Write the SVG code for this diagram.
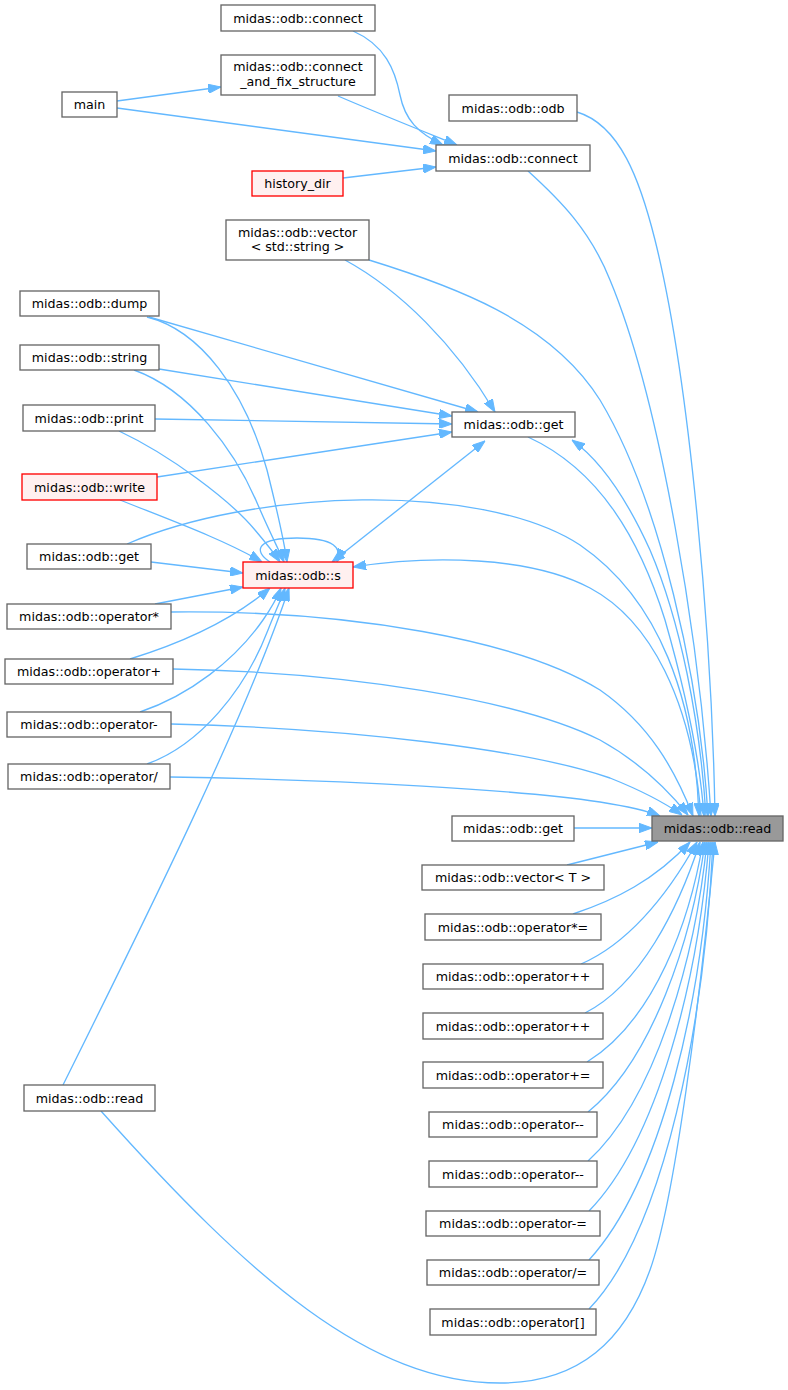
<svg xmlns="http://www.w3.org/2000/svg" width="788" height="1390" viewBox="0 0 788 1390">
<defs>
<style>
.node rect{fill:#ffffff;stroke:#666666;stroke-width:1.33}
.node.red rect{fill:#fff0f0;stroke:#ff0000}
.node.root rect{fill:#999999;stroke:#666666}
text{font-family:"DejaVu Sans","Liberation Sans",sans-serif;font-size:12.67px;text-anchor:middle;fill:#000000}
#edges path{fill:none;stroke:#63b8ff;stroke-width:1.33;marker-end:url(#ah)}
#edges path.both{marker-start:url(#ah)}
#edges path.rev{marker-end:url(#ah)}
</style>
<marker id="ah" viewBox="0 0 13 9.4" refX="13" refY="4.7" markerWidth="13" markerHeight="9.4" markerUnits="userSpaceOnUse" orient="auto-start-reverse">
<path d="M0,0 L13,4.7 L0,9.4 z" fill="#63b8ff" stroke="#63b8ff" stroke-width="1"/>
</marker>
</defs>
<rect x="0" y="0" width="788" height="1390" fill="#ffffff"/>
<g id="edges">
<path d="M117,101 L221,87"/>
<path d="M117,108 L436,151"/>
<path d="M338,96 C375,112 420,130 457,145"/>
<path d="M353,31 C385,45 395,70 400,95 C405,120 418,133 443,145"/>
<path d="M343,178 L436,167"/>
<path d="M577,112 C620,125 640,180 655,240 C690,380 712,640 715,816"/>
<path d="M528,171 C560,200 590,230 610,280 C660,400 700,640 711,816"/>
<path d="M369,260 C450,285 550,320 600,400 C660,500 700,680 708,816"/>
<path d="M345,260 C400,290 455,345 495,412"/>
<path d="M149,317 L478,412"/>
<path d="M159,369 L452,416"/>
<path d="M155,419 L452,424"/>
<path d="M157,477 L452,432"/>
<path d="M147,317 C200,330 245,390 267,470 C277,510 284,540 287,562"/>
<path d="M134,370 C190,390 235,450 258,505 C270,533 279,550 284,562"/>
<path d="M119,431 C170,455 230,500 255,530 C266,543 274,553 280,562"/>
<path d="M120,500 C170,520 225,540 262,562"/>
<path d="M151,562 L243,573"/>
<path d="M155,604 L243,587"/>
<path d="M130,659 C185,642 235,618 270,588"/>
<path d="M140,712 C190,695 235,660 263,620 C272,607 277,598 281,588"/>
<path d="M147,764 C200,745 245,690 268,630 C275,612 281,600 285,588"/>
<path d="M63,1085 C140,930 245,720 289,588"/>
<path d="M270,562 C252,550 258,538 297,538 C334,538 343,548 337,562"/>
<path class="both" d="M485,441 L332,562"/>
<path d="M127,544 C250,490 480,480 580,545 C660,600 695,700 699,816"/>
<path d="M701,816 C692,700 650,620 590,588 C530,556 430,555 353,567"/>
<path d="M528,437 C600,470 640,540 665,620 C685,690 700,760 704,816"/>
<path d="M706,816 C700,720 680,620 650,550 C625,495 600,460 572,440"/>
<path d="M171,612 C350,610 520,640 600,690 C650,725 675,770 693,816"/>
<path d="M173,669 C350,672 520,700 600,740 C645,765 672,795 688,815"/>
<path d="M171,724 C350,728 530,750 610,778 C640,790 665,803 682,815"/>
<path d="M170,777 C350,780 520,790 600,802 C625,806 645,810 660,816"/>
<path d="M574,828 L652,828"/>
<path d="M567,865 L658,842"/>
<path d="M573,914 C615,900 655,880 690,842"/>
<path d="M581,964 C625,945 665,900 697,842"/>
<path d="M585,1013 C640,985 678,910 700,842"/>
<path d="M587,1062 C655,1020 690,920 703,842"/>
<path d="M588,1112 C652,1060 692,940 705,842"/>
<path d="M588,1161 C655,1100 695,960 707,842"/>
<path d="M589,1211 C658,1140 698,980 709,842"/>
<path d="M589,1260 C662,1180 702,1000 711,842"/>
<path d="M589,1309 C665,1230 705,1020 713,842"/>
<path d="M101,1111 C251,1279 370,1383 500,1383 C580,1383 625,1340 650,1270 C675,1200 700,1000 715,842"/>
</g>
<g id="n_connect_top" class="node"><rect x="221" y="5" width="154" height="26"/><text x="298" y="22.5">midas::odb::connect</text></g>
<g id="n_connect_fix" class="node"><rect x="221" y="55" width="154" height="40"/><text x="298" y="71">midas::odb::connect</text><text x="298" y="86">_and_fix_structure</text></g>
<g id="n_main" class="node"><rect x="62" y="92" width="55" height="25"/><text x="89.5" y="109">main</text></g>
<g id="n_history_dir" class="node red"><rect x="252" y="171" width="91" height="25"/><text x="297.5" y="188">history_dir</text></g>
<g id="n_vector_str" class="node"><rect x="226" y="220" width="143" height="40"/><text x="297.5" y="236.5">midas::odb::vector</text><text x="297.5" y="251">&lt; std::string &gt;</text></g>
<g id="n_odb" class="node"><rect x="449" y="95" width="128" height="26"/><text x="513" y="112.5">midas::odb::odb</text></g>
<g id="n_connect" class="node"><rect x="436" y="145" width="154" height="26"/><text x="513" y="162.5">midas::odb::connect</text></g>
<g id="n_dump" class="node"><rect x="20" y="291" width="139" height="25"/><text x="89.5" y="308">midas::odb::dump</text></g>
<g id="n_string" class="node"><rect x="20" y="345" width="139" height="25"/><text x="89.5" y="362">midas::odb::string</text></g>
<g id="n_print" class="node"><rect x="23" y="405" width="132" height="26"/><text x="89" y="422.5">midas::odb::print</text></g>
<g id="n_write" class="node red"><rect x="22" y="474" width="135" height="26"/><text x="89.5" y="491.5">midas::odb::write</text></g>
<g id="n_get_left" class="node"><rect x="27" y="544" width="124" height="25"/><text x="89" y="561">midas::odb::get</text></g>
<g id="n_s" class="node red"><rect x="243" y="562" width="110" height="26"/><text x="298" y="579.5">midas::odb::s</text></g>
<g id="n_op_mul" class="node"><rect x="7" y="604" width="164" height="25"/><text x="89" y="621">midas::odb::operator*</text></g>
<g id="n_op_add" class="node"><rect x="5" y="659" width="168" height="25"/><text x="89" y="676">midas::odb::operator+</text></g>
<g id="n_op_sub" class="node"><rect x="7" y="712" width="164" height="25"/><text x="89" y="729">midas::odb::operator-</text></g>
<g id="n_op_div" class="node"><rect x="8" y="764" width="162" height="25"/><text x="89" y="781">midas::odb::operator/</text></g>
<g id="n_get_mid" class="node"><rect x="452" y="412" width="123" height="25"/><text x="513.5" y="429">midas::odb::get</text></g>
<g id="n_read" class="node root"><rect x="652" y="816" width="131" height="25"/><text x="717.5" y="833">midas::odb::read</text></g>
<g id="n_get_right" class="node"><rect x="452" y="816" width="122" height="25"/><text x="513" y="833">midas::odb::get</text></g>
<g id="n_vector_t" class="node"><rect x="422" y="865" width="182" height="25"/><text x="513" y="882">midas::odb::vector&lt; T &gt;</text></g>
<g id="n_op_muleq" class="node"><rect x="425" y="914" width="176" height="26"/><text x="513" y="931.5">midas::odb::operator*=</text></g>
<g id="n_op_inc1" class="node"><rect x="423" y="964" width="180" height="25"/><text x="513" y="981">midas::odb::operator++</text></g>
<g id="n_op_inc2" class="node"><rect x="423" y="1013" width="180" height="26"/><text x="513" y="1030.5">midas::odb::operator++</text></g>
<g id="n_op_addeq" class="node"><rect x="423" y="1062" width="180" height="26"/><text x="513" y="1079.5">midas::odb::operator+=</text></g>
<g id="n_op_dec1" class="node"><rect x="429" y="1112" width="168" height="25"/><text x="513" y="1129">midas::odb::operator--</text></g>
<g id="n_op_dec2" class="node"><rect x="429" y="1161" width="168" height="26"/><text x="513" y="1178.5">midas::odb::operator--</text></g>
<g id="n_op_subeq" class="node"><rect x="426" y="1211" width="174" height="25"/><text x="513" y="1228">midas::odb::operator-=</text></g>
<g id="n_op_diveq" class="node"><rect x="427" y="1260" width="172" height="25"/><text x="513" y="1277">midas::odb::operator/=</text></g>
<g id="n_op_index" class="node"><rect x="430" y="1309" width="166" height="26"/><text x="513" y="1326.5">midas::odb::operator[]</text></g>
<g id="n_read_left" class="node"><rect x="24" y="1085" width="131" height="26"/><text x="89.5" y="1102.5">midas::odb::read</text></g>
</svg>
